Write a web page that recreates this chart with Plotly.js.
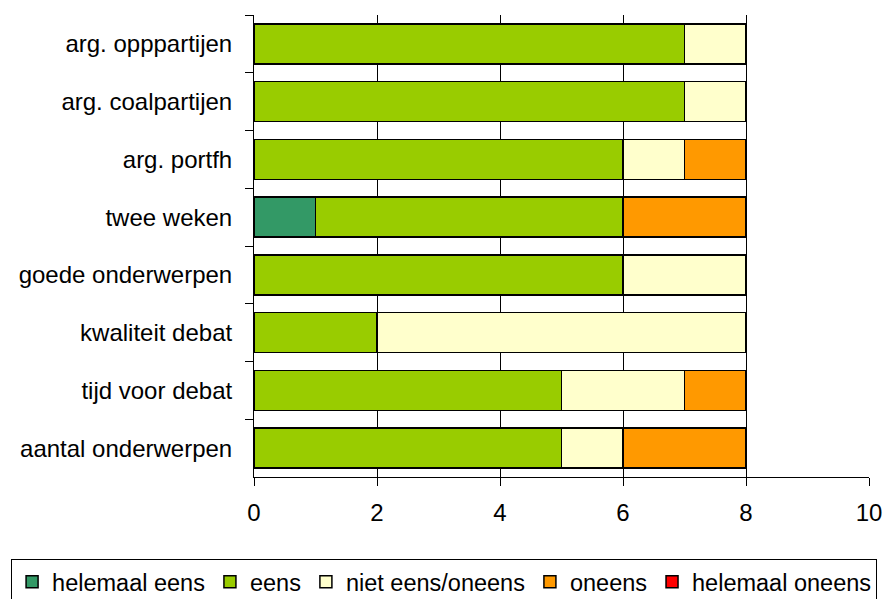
<!DOCTYPE html>
<html>
<head>
<meta charset="utf-8">
<script src="https://cdn.plot.ly/plotly-3.0.1.min.js"></script>
<style>html,body{margin:0;padding:0;background:#fff;}#chart{width:885px;height:599px;}</style>
</head>
<body>
<div id="chart"></div>
<script>
const categories = ["arg. opppartijen","arg. coalpartijen","arg. portfh","twee weken","goede onderwerpen","kwaliteit debat","tijd voor debat","aantal onderwerpen"];
const helemaalEens = [0,0,0,1,0,0,0,0];
const eens = [7,7,6,5,6,2,5,5];
const nietEensOneens = [1,1,1,0,2,6,2,1];
const oneens = [0,0,1,2,0,0,1,2];
const helemaalOneens = [0,0,0,0,0,0,0,0];
const xTicks = [0,2,4,6,8,10];

const seriesNames = ["helemaal eens","eens","niet eens/oneens","oneens","helemaal oneens"];
const seriesData = [helemaalEens, eens, nietEensOneens, oneens, helemaalOneens];
const seriesColors = ["#339966","#99CC00","#FFFFCC","#FF9900","#FF0000"];

const traces = seriesNames.map((n,i)=>({
  type:"bar", orientation:"h", name:n, y:categories, x:seriesData[i],
  marker:{color:seriesColors[i], line:{color:"#000", width:1.5}},
  hoverinfo:"x+y+name"
}));

const font = {family:"Liberation Sans, Arial, sans-serif", size:24, color:"#000"};
const legendFont = {family:"Liberation Sans, Arial, sans-serif", size:23.5, color:"#000"};
const layout = {
  width:885, height:599,
  margin:{l:254, r:16, t:15, b:122, autoexpand:false},
  barmode:"stack", bargap:0.31,
  paper_bgcolor:"#fff", plot_bgcolor:"#fff",
  font:font,
  showlegend:true,
  legend:{orientation:"h", x:-0.395, xanchor:"left", y:-0.1775, yanchor:"top",
    bordercolor:"#000", borderwidth:1, font:legendFont, traceorder:"normal", itemclick:false},
  xaxis:{range:[0,10], tickvals:xTicks, ticktext:xTicks.map(String), showline:true, linecolor:"#000", linewidth:1,
    ticks:"outside", ticklen:8, tickcolor:"#000", showgrid:true, gridcolor:"#000", gridwidth:1,
    zeroline:false, ticklabelstandoff:6, fixedrange:true},
  yaxis:{type:"category", autorange:"reversed", showline:true, linecolor:"#000", linewidth:1,
    ticks:"outside", ticklen:8, tickcolor:"#000", tickson:"boundaries", showgrid:false,
    ticklabelstandoff:16, fixedrange:true}
};
Plotly.newPlot("chart", traces, layout, {displayModeBar:false, staticPlot:true});
</script>
</body>
</html>
